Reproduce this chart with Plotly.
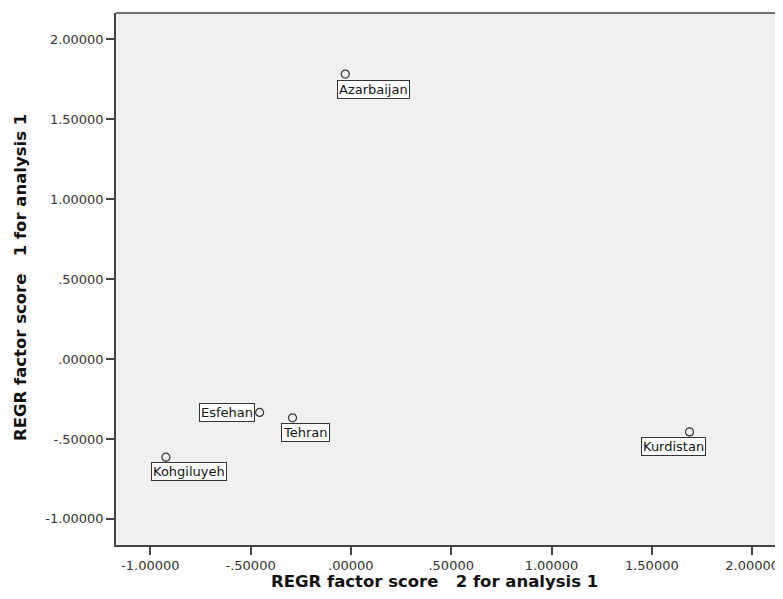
import plotly.graph_objects as go

provinces = ["Azarbaijan", "Esfehan", "Tehran", "Kohgiluyeh", "Kurdistan"]
score2 = [-0.028, -0.455, -0.291, -0.922, 1.688]
score1 = [1.781, -0.334, -0.368, -0.614, -0.456]

x_tickvals = [-1.0, -0.5, 0.0, 0.5, 1.0, 1.5, 2.0]
x_ticktext = ["-1.00000", "-.50000", ".00000", ".50000", "1.00000", "1.50000", "2.00000"]
y_tickvals = [-1.0, -0.5, 0.0, 0.5, 1.0, 1.5, 2.0]
y_ticktext = ["-1.00000", "-.50000", ".00000", ".50000", "1.00000", "1.50000", "2.00000"]

x_title = "REGR factor score\u00a0\u00a0\u00a02 for analysis 1"
y_title = "REGR factor score\u00a0\u00a0\u00a01 for analysis 1"

# label placement (anchor, pixel shifts) per province
label_style = {
    "Azarbaijan": ("left", "top", -8, -6),
    "Esfehan": ("right", "middle", -5, 0),
    "Tehran": ("left", "top", -12, -5),
    "Kohgiluyeh": ("left", "top", -15, -5),
    "Kurdistan": ("right", "top", 16, -5),
}

fig = go.Figure()
fig.add_trace(go.Scatter(
    x=score2, y=score1, mode="markers",
    marker=dict(symbol="circle-open", size=8, color="#333333", line=dict(width=1.2)),
    hoverinfo="text", text=provinces, showlegend=False,
))

for name, xv, yv in zip(provinces, score2, score1):
    xa, ya, xs, ys = label_style[name]
    fig.add_annotation(
        x=xv, y=yv, xref="x", yref="y", text=name, showarrow=False,
        xanchor=xa, yanchor=ya, xshift=xs, yshift=ys,
        font=dict(family="DejaVu Sans", size=13, color="#111111"),
        bgcolor="white", bordercolor="#333333", borderwidth=1, borderpad=1,
    )

title_font = dict(family="DejaVu Sans", size=16.5, color="#111111")
fig.add_annotation(text="<b>" + x_title + "</b>", xref="paper", yref="paper",
                   x=0.4768, y=0, xanchor="center", yanchor="middle", yshift=-36,
                   showarrow=False, font=title_font)
fig.add_annotation(text="<b>" + y_title + "</b>", xref="paper", yref="paper",
                   x=0, y=0.5019, xanchor="center", yanchor="middle", xshift=-95,
                   textangle=-90, showarrow=False, font=title_font)

axis_font = dict(family="DejaVu Sans", size=13, color="#333333")

fig.update_layout(
    width=775, height=591,
    margin=dict(l=108, r=0, t=5, b=54),
    paper_bgcolor="white", plot_bgcolor="#f0f0f0",
    xaxis=dict(
        range=[-1.171, 2.154], tickvals=x_tickvals, ticktext=x_ticktext,
        showgrid=False, zeroline=False, showline=True, linecolor="#444444", linewidth=1.5,
        ticks="outside", ticklen=8, tickwidth=1.5, tickcolor="#444444",
        tickfont=axis_font,
    ),
    yaxis=dict(
        range=[-1.163, 2.163], tickvals=y_tickvals, ticktext=y_ticktext,
        showgrid=False, zeroline=False, showline=True, linecolor="#444444", linewidth=1.5,
        ticks="outside", ticklen=8, tickwidth=1.5, tickcolor="#444444",
        tickfont=axis_font,
    ),
    shapes=[dict(type="line", xref="paper", yref="paper", x0=0, x1=1, y0=1, y1=1,
                 line=dict(color="#444444", width=1.5))],
)

fig.write_html("out.html")
